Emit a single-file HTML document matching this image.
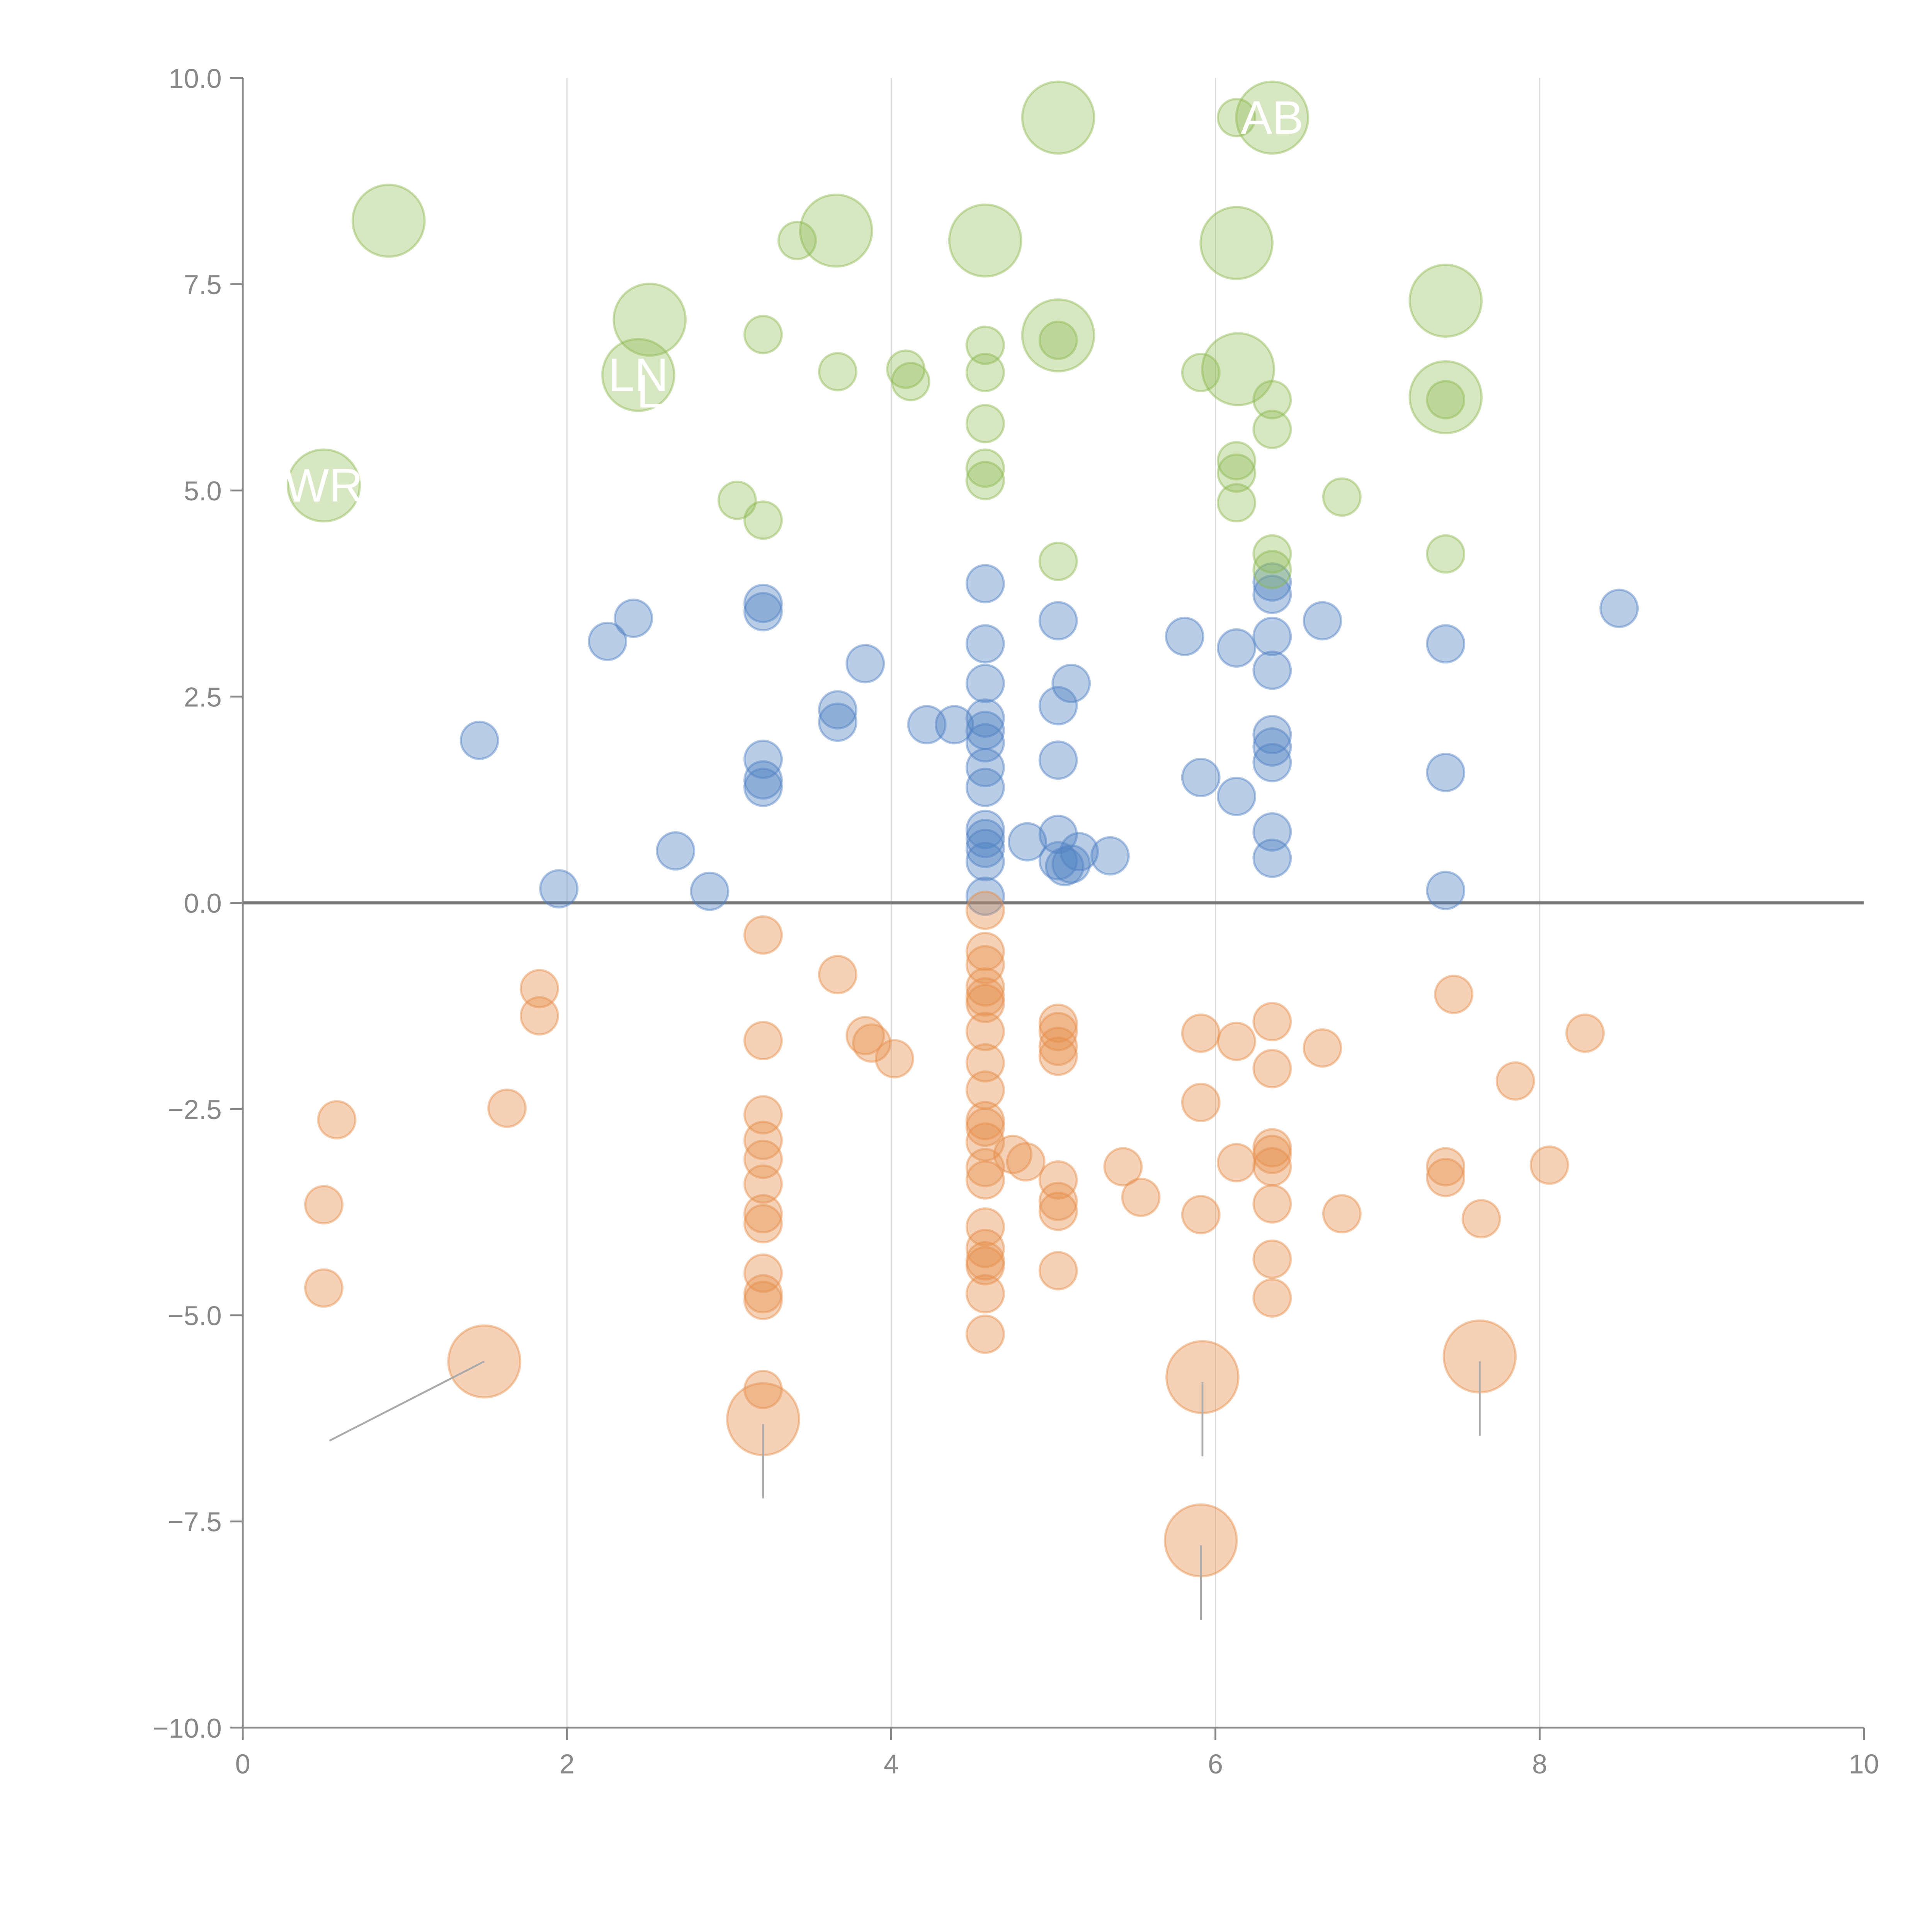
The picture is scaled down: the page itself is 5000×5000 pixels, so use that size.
<!DOCTYPE html>
<html><head><meta charset="utf-8"><style>
html,body{margin:0;padding:0;background:#fff;}
svg{display:block;}
text{font-family:"Liberation Sans",sans-serif;}
</style></head><body>
<svg id="chart" width="5000" height="5000" viewBox="0 0 1560 1560" xmlns="http://www.w3.org/2000/svg">
<g id="grid"></g>
<g id="axes"></g>
<g id="marks"></g>
<g id="notes"></g>
</svg>
<script>
const greenX=[0.90,0.50,2.51,2.44,3.66,4.58,5.03,5.03,6.13,6.14,6.35,7.42,7.42,3.42,3.21,3.67,4.09,4.12,4.58,4.58,4.58,4.58,4.58,3.05,3.21,5.03,5.03,6.13,5.91,6.13,6.13,6.13,6.35,6.35,6.78,6.35,6.35,7.42,7.42];
const greenY=[8.27,5.06,7.07,6.40,8.15,8.03,9.52,6.88,8.0,6.47,9.52,7.3,6.13,8.03,6.89,6.44,6.47,6.32,6.76,6.43,5.81,5.27,5.12,4.88,4.64,6.82,4.14,9.52,6.43,5.36,5.21,4.85,6.10,5.74,4.92,4.23,4.04,6.10,4.23];
const greenBig=[1,1,1,1,1,1,1,1,1,1,1,1,1,0,0,0,0,0,0,0,0,0,0,0,0,0,0,0,0,0,0,0,0,0,0,0,0,0,0];
const blueX=[1.46,1.95,2.25,2.41,2.67,2.88,3.21,3.21,3.21,3.21,3.21,3.67,3.67,3.84,4.22,4.39,4.58,4.58,4.58,4.58,4.58,4.58,4.58,4.58,4.58,4.58,4.58,4.58,4.58,4.84,5.03,5.11,5.03,5.03,5.03,5.03,5.07,5.11,5.16,5.35,5.81,5.91,6.13,6.13,6.35,6.35,6.35,6.35,6.35,6.35,6.35,6.35,6.35,6.66,7.42,7.42,7.42,8.49];
const blueY=[1.97,0.17,3.17,3.45,0.63,0.14,3.63,3.53,1.74,1.49,1.40,2.34,2.19,2.90,2.16,2.16,3.87,3.14,2.66,2.24,2.09,1.94,1.64,1.40,0.89,0.78,0.66,0.50,0.08,0.74,3.42,2.66,2.39,1.73,0.83,0.51,0.44,0.47,0.62,0.57,3.23,1.52,3.09,1.29,3.89,3.74,3.23,2.82,2.04,1.89,1.70,0.86,0.54,3.42,3.14,1.58,0.15,3.57];
const orangeX=[0.58,0.50,0.50,1.83,1.83,1.63,3.21,3.21,3.21,3.21,3.21,3.21,3.21,3.21,3.21,3.21,3.21,3.21,3.67,3.84,3.88,4.02,4.58,4.58,4.58,4.58,4.58,4.58,4.58,4.58,4.58,4.58,4.58,4.58,4.58,4.58,4.58,4.58,4.58,4.58,4.58,4.58,4.75,4.83,5.03,5.03,5.03,5.03,5.03,5.03,5.03,5.03,5.43,5.54,5.91,5.91,5.91,6.13,6.13,6.35,6.35,6.35,6.35,6.35,6.35,6.35,6.35,6.66,6.78,7.47,7.42,7.42,7.64,7.85,8.06,8.28,1.49,3.21,5.92,5.91,7.63];
const orangeY=[-2.63,-3.66,-4.67,-1.04,-1.37,-2.49,-0.39,-1.67,-2.57,-2.88,-3.11,-3.41,-3.77,-3.89,-4.49,-4.74,-4.82,-5.90,-0.87,-1.61,-1.70,-1.89,-0.09,-0.59,-0.75,-1.02,-1.14,-1.22,-1.56,-1.94,-2.27,-2.64,-2.72,-2.90,-3.21,-3.36,-3.93,-4.19,-4.34,-4.40,-4.74,-5.23,-3.05,-3.14,-1.46,-1.56,-1.74,-1.86,-3.36,-3.62,-3.74,-4.46,-3.20,-3.57,-1.58,-2.42,-3.78,-1.68,-3.15,-1.44,-2.01,-2.97,-3.05,-3.20,-3.65,-4.32,-4.79,-1.76,-3.77,-1.11,-3.20,-3.33,-3.83,-2.16,-3.18,-1.58,-5.56,-6.26,-5.75,-7.73,-5.50];
const orangeBig=orangeX.map((v,i)=>i>=orangeX.length-5?1:0);
const xTicks=[0,2,4,6,8,10];
const yTicks=[10,7.5,5,2.5,0,-2.5,-5,-7.5,-10];
const yTickLabels=["10.0","7.5","5.0","2.5","0.0","\u22122.5","\u22125.0","\u22127.5","\u221210.0"];
const pointLabels=["WR","LN","L","AB"];
const pointLabelX=[0.50,2.44,2.51,6.35];
const pointLabelY=[5.06,6.40,6.20,9.52];

const X0=196,X1=1505,Y0=1395,Y1=63;
const sx=v=>X0+(v-0)/10*(X1-X0);
const sy=v=>Y0-(v+10)/20*(Y0-Y1);
const NS="http://www.w3.org/2000/svg";
function mk(tag,attrs,parent){const e=document.createElementNS(NS,tag);for(const k in attrs)e.setAttribute(k,attrs[k]);parent.appendChild(e);return e;}
const grid=document.getElementById('grid'),axes=document.getElementById('axes'),marks=document.getElementById('marks'),notes=document.getElementById('notes');

xTicks.forEach(t=>{
  if(t>0&&t<10){const g=mk('line',{x1:sx(t),x2:sx(t),y1:Y1,y2:Y0,stroke:'#dcdcdc','stroke-width':1},grid);
  
  }
  const tk=mk('line',{x1:sx(t),x2:sx(t),y1:Y0,y2:Y0+10,stroke:'#888','stroke-width':1.5},axes);
  
  
  const tl=mk('text',{x:sx(t),y:Y0+37,'text-anchor':'middle','font-size':22,fill:'#888'},axes);
  tl.textContent=t;
  
  
});
yTicks.forEach((t,i)=>{
  const tk=mk('line',{x1:X0-10,x2:X0,y1:sy(t),y2:sy(t),stroke:'#888','stroke-width':1.5},axes);
  
  
  const tl=mk('text',{x:X0-17,y:sy(t)+8,'text-anchor':'end','font-size':22,fill:'#888'},axes);
  tl.textContent=yTickLabels[i];
  
  
});
const ya=mk('line',{x1:X0,x2:X0,y1:Y1,y2:Y0,stroke:'#888','stroke-width':1.5},axes);


const xa=mk('line',{x1:X0,x2:X1,y1:Y0,y2:Y0,stroke:'#888','stroke-width':1.5},axes);



function series(xs,ys,big,fill,stroke,name){
  xs.forEach((x,i)=>{
    const c=mk('circle',{cx:sx(x),cy:sy(ys[i]),r:big&&big[i]?29:15,fill:fill,stroke:stroke,'stroke-width':1.8},marks);
    
    
  });
}
series(blueX,blueY,null,'rgba(79,129,196,0.4)','rgba(79,129,196,0.45)','blue-bubble');
series(orangeX,orangeY,orangeBig,'rgba(231,142,74,0.4)','rgba(231,142,74,0.45)','orange-bubble');
series(greenX,greenY,greenBig,'rgba(140,185,80,0.35)','rgba(140,185,80,0.45)','green-bubble');

const zl=mk('line',{x1:X0,x2:X1,y1:sy(0),y2:sy(0),stroke:'#777','stroke-width':2.5},axes);



// leader lines for large orange bubbles (offsets in px)
const leadDX=[-125,0,0,0,0], leadDY=[64,60,60,60,60];
for(let k=0;k<5;k++){
  const i=orangeX.length-5+k;
  const x=sx(orangeX[i]),y=sy(orangeY[i])+(k===0?0:4);
  const l=mk('line',{x1:x,y1:y,x2:x+leadDX[k],y2:y+leadDY[k],stroke:'#aaa','stroke-width':1.5},notes);
  
  
}
pointLabels.forEach((s,i)=>{
  const t=mk('text',{x:sx(pointLabelX[i]),y:sy(pointLabelY[i])+13,'text-anchor':'middle','font-size':38,fill:'#fff'},notes);
  t.textContent=s;
  
  
});
</script>
</body></html>
